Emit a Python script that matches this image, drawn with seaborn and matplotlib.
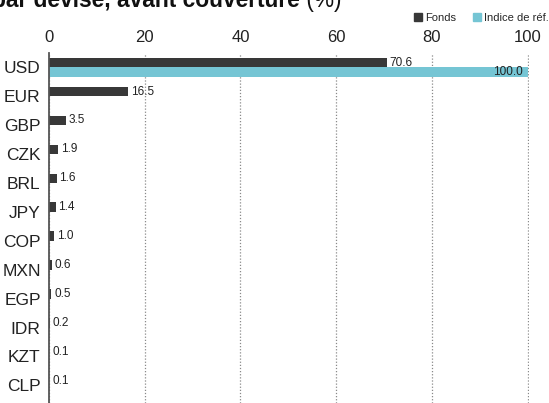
import matplotlib
matplotlib.use("Agg")
import matplotlib.pyplot as plt
import seaborn as sns
import pandas as pd
from matplotlib.patches import Patch

currencies = ["USD", "EUR", "GBP", "CZK", "BRL", "JPY", "COP", "MXN", "EGP", "IDR", "KZT", "CLP"]
fonds = [70.6, 16.5, 3.5, 1.9, 1.6, 1.4, 1.0, 0.6, 0.5, 0.2, 0.1, 0.1]
indice = [100.0, 0, 0, 0, 0, 0, 0, 0, 0, 0, 0, 0]
series_names = ["Fonds", "Indice de réf."]
x_ticks = [0, 20, 40, 60, 80, 100]
title_bold = "par devise, avant couverture"
title_rest = " (%)"

df = pd.DataFrame({
    "Devise": currencies * 2,
    "Valeur": fonds + indice,
    "Série": [series_names[0]] * len(currencies) + [series_names[1]] * len(currencies),
})

sns.set_theme(style="white")
plt.rcParams['font.family'] = ['Liberation Sans', 'DejaVu Sans']

colors = {"Fonds": "#383838", "Indice de réf.": "#75c5d4"}

fig = plt.figure(figsize=(5.49, 4.03), dpi=100)
ax = fig.add_axes([49 / 549, 0, 480 / 549, 350 / 403])
sns.barplot(data=df, y="Devise", x="Valeur", hue="Série", orient="h",
            order=currencies, hue_order=series_names, palette=colors,
            width=0.66, saturation=1, legend=False, linewidth=0, ax=ax)

ax.set_xlim(0, 100.3)
ax.set_ylim(11.61, -0.5)
ax.set_xticks(x_ticks)
ax.set_xticklabels([str(t) for t in x_ticks])
ax.xaxis.tick_top()
ax.tick_params(axis='x', length=0, pad=6.0, labelsize=12, colors='#222222')
ax.tick_params(axis='y', length=0, pad=6.0, labelsize=12.5, colors='#222222')
ax.set_xlabel("")
ax.set_ylabel("")
ax.xaxis.grid(True, linestyle=(0, (1, 1.5)), color="#8a8a8a", linewidth=0.9)
ax.yaxis.grid(False)
ax.set_axisbelow(True)
for s in ["top", "right", "bottom"]:
    ax.spines[s].set_visible(False)
ax.spines["left"].set_color("#555555")
ax.spines["left"].set_linewidth(1.3)

# value labels
ax.bar_label(ax.containers[0], fmt="%.1f", padding=2, fontsize=8.5, color="#222222")
for p, v in zip(ax.containers[1], indice):
    if v > 0:
        ax.text(p.get_x() + p.get_width() - 1.0, p.get_y() + p.get_height() / 2,
                f"{v:.1f}", ha="right", va="center", fontsize=8.5, color="#222222")

# legend
handles = [Patch(color=colors[n]) for n in series_names]
fig.legend(handles=handles, labels=series_names, loc="center right",
           bbox_to_anchor=(1.0, 1 - 17.7 / 403), ncol=2, frameon=False,
           fontsize=8, handlelength=0.7, handleheight=0.7,
           handletextpad=0.3, columnspacing=1.5, borderaxespad=0, borderpad=0)

# title (top part cropped as in reference)
t1 = fig.text(-8 / 549, 1 - 6.7 / 403, title_bold, fontsize=16.4, fontweight="bold",
              va="baseline", ha="left", color="#111111")
fig.canvas.draw()
bb = t1.get_window_extent()
fig.text(bb.x1 / fig.bbox.width, 1 - 6.7 / 403, title_rest, fontsize=16.4,
         va="baseline", ha="left", color="#111111")

fig.savefig("out.png", dpi=100)
